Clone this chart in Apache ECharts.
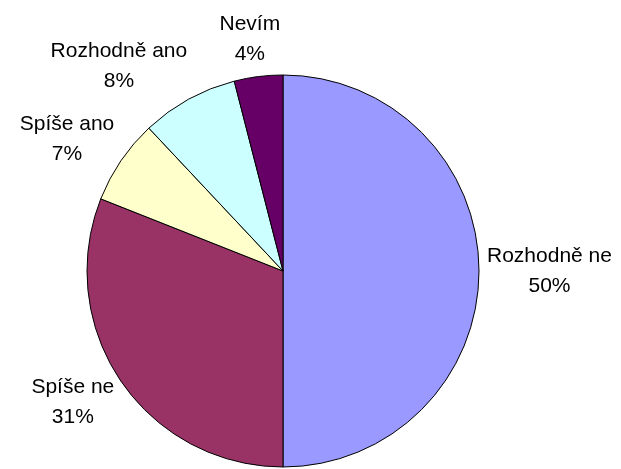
<!DOCTYPE html>
<html>
<head>
<meta charset="utf-8">
<script src="https://cdn.jsdelivr.net/npm/echarts@6/dist/echarts.min.js"></script>
<style>html,body{margin:0;padding:0;background:#fff;}#c{width:621px;height:469px;}</style>
</head>
<body>
<div id="c"></div>
<script>
const categories = ['Rozhodně ne', 'Spíše ne', 'Spíše ano', 'Rozhodně ano', 'Nevím'];
const values = [50, 31, 7, 8, 4];
const colors = ['#9999FF', '#993366', '#FFFFCC', '#CCFFFF', '#660066'];

const CX = 283, CY = 271, R = 196, GAP = 8;
const total = values.reduce((a, b) => a + b, 0);
function midAngle(i) {
  let s = 0;
  for (let k = 0; k < i; k++) s += values[k];
  return ((s + values[i] / 2) / total) * 2 * Math.PI;
}
function clamp(v) { return Math.max(-1, Math.min(1, v)); }

const chart = echarts.init(document.getElementById('c'), null, {renderer: 'canvas'});
chart.setOption({
  animation: false,
  backgroundColor: '#ffffff',
  series: [{
    type: 'pie',
    center: [CX, CY],
    radius: R,
    startAngle: 90,
    clockwise: true,
    avoidLabelOverlap: false,
    percentPrecision: 0,
    emphasis: {disabled: true},
    itemStyle: {borderColor: '#000', borderWidth: 1},
    label: {
      show: true,
      position: 'outside',
      formatter: '{b}\n{d}%',
      fontFamily: 'Liberation Sans, Arial, sans-serif',
      fontSize: 21,
      lineHeight: 30,
      color: '#000'
    },
    labelLine: {show: false},
    labelLayout: function (p) {
      const a = midAngle(p.dataIndex);
      const s = Math.sin(a), c = Math.cos(a);
      const w = p.labelRect.width, h = p.labelRect.height;
      const px = CX + (R + GAP) * s, py = CY - (R + GAP) * c;
      return {
        x: px + (w / 2) * clamp(s * 2),
        y: py - (h / 2) * c,
        align: 'center',
        verticalAlign: 'middle'
      };
    },
    data: categories.map((n, i) => ({name: n, value: values[i], itemStyle: {color: colors[i]}}))
  }]
});
</script>
</body>
</html>
